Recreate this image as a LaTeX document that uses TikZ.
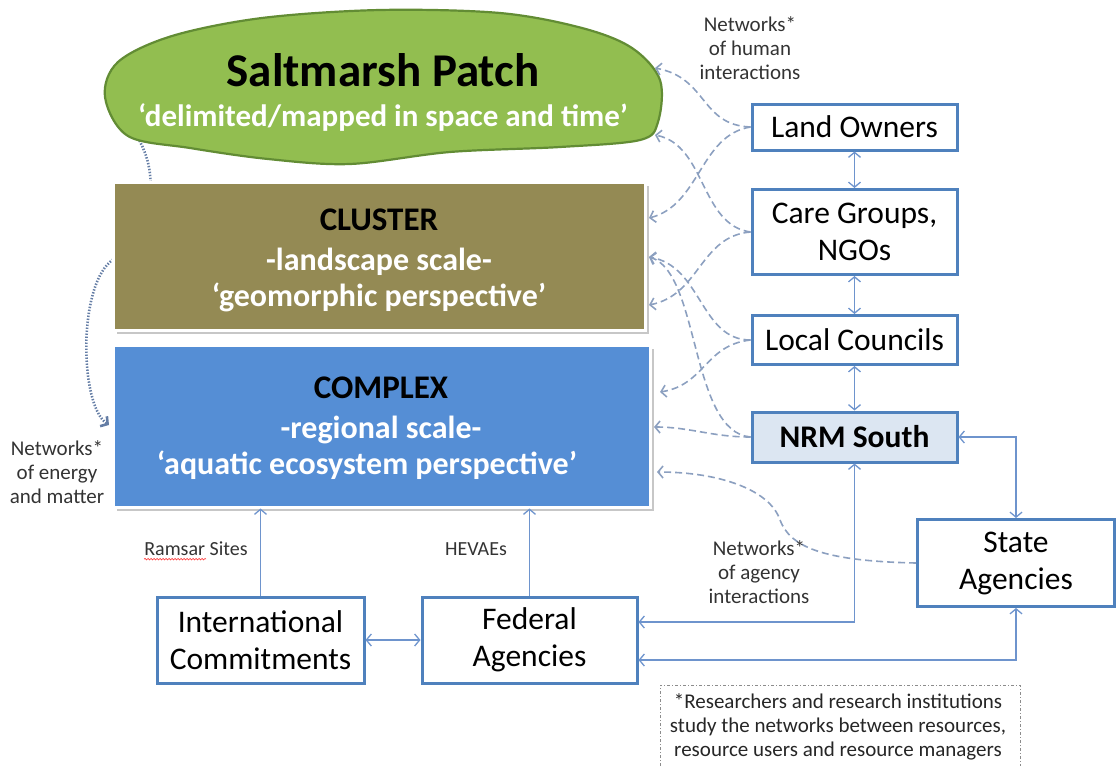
\documentclass[tikz,border=0pt]{standalone}
\usepackage{fontspec}
\setmainfont{Carlito}
\usetikzlibrary{arrows.meta,decorations.pathmorphing}

\begin{document}
\begin{tikzpicture}[
    x=1pt,
    y=-1pt,
    >={Straight Barb[length=5pt,width=12pt]},
    agent box/.style={draw=boxBlue, line width=3pt, fill=white, align=center,
      font=\fontsize{31.5}{37}\selectfont, inner sep=0pt, minimum width=205pt},
    scale box/.style={draw=white, line width=3pt, minimum width=532pt},
    link/.style={draw=linkBlue, line width=1.3pt},
    net link/.style={draw=netGrey, line width=1.6pt, dash pattern=on 7pt off 4pt},
    energy link/.style={draw=energyGrey, line width=2.6pt, dash pattern=on 1.4pt off 1.6pt},
    small label/.style={font=\fontsize{21}{24}\selectfont, text=black!80, align=center, inner sep=0pt},
    scale title/.style={font=\bfseries\fontsize{33}{36}\selectfont, text=black, inner sep=0pt},
    scale text/.style={font=\bfseries\fontsize{32}{36}\selectfont, text=white, inner sep=0pt}
]

\definecolor{boxBlue}{RGB}{79,129,189}
\definecolor{linkBlue}{RGB}{110,148,205}
\definecolor{netGrey}{RGB}{140,160,192}
\definecolor{energyGrey}{RGB}{100,125,165}
\definecolor{patchGreen}{RGB}{146,190,80}
\definecolor{patchEdge}{RGB}{98,140,52}
\definecolor{clusterOlive}{RGB}{148,138,84}
\definecolor{complexBlue}{RGB}{85,142,213}
\definecolor{nrmFill}{RGB}{220,230,242}

\useasboundingbox (0,0) rectangle (1116,766);

% Arrow targets on the scales.
\coordinate (patchTop) at (655,68);
\coordinate (patchLow) at (655,135);
\coordinate (patchFoot) at (138,138);
\coordinate (clusterTop) at (649,218);
\coordinate (clusterMid) at (649,257);
\coordinate (clusterLow) at (649,305);
\coordinate (complexTop) at (660,392);
\coordinate (complexMid) at (654,427);
\coordinate (complexLow) at (657,472);
\coordinate (complexLeft) at (109,425);

% Networks of energy and matter (passes behind the cluster).
\draw[energy link, ->] (patchFoot) .. controls (165,185) and (145,235) .. (110,262)
  .. controls (78,290) and (80,405) .. (complexLeft);

% Saltmarsh patch outline.
\draw[fill=patchGreen, draw=patchEdge, line width=2.2pt]
  plot[smooth cycle, tension=0.55] coordinates {
    (105,97) (118,62) (172,36) (262,18) (380,10) (500,13) (582,28)
    (632,48) (660,80) (658,122) (640,140) (560,147) (450,152)
    (350,164) (268,159) (190,148) (128,136)};
\node[font=\bfseries\fontsize{47}{50}\selectfont, inner sep=0pt] (patch) at (383,70) {Saltmarsh Patch};
\node[font=\bfseries\fontsize{31}{34}\selectfont, text=white, inner sep=0pt] (patchsub) at (383,117)
  {‘delimited/mapped in space and time’};

% Cluster and complex scales.
\fill[black!22] (117,186) rectangle (649,334);
\node[scale box, fill=clusterOlive, minimum height=148pt] (cluster) at (379,256) {};
\node[scale title] (clusterA) at (379,220) {CLUSTER};
\node[scale text] (clusterB) at (379,262) {-landscape scale-};
\node[scale text] (clusterC) at (379,297) {‘geomorphic perspective’};

\fill[black!22] (117,349) rectangle (654,511);
\node[scale box, fill=complexBlue, minimum width=537pt, minimum height=162pt] (complex) at (381.5,426) {};
\node[scale title] (complexA) at (381,388) {COMPLEX};
\node[scale text] (complexB) at (381,430) {-regional scale-};
\node[scale text] (complexC) at (367,465) {‘aquatic ecosystem perspective’};

% Resource users and managers.
\node[agent box, minimum height=46pt] (land) at (854.5,127) {Land Owners};
\node[agent box, minimum height=85pt] (care) at (854.5,232) {Care Groups,\\NGOs};
\node[agent box, minimum height=49pt] (council) at (854.5,340) {Local Councils};
\node[agent box, minimum height=50pt, fill=nrmFill, font=\bfseries\fontsize{31.5}{37}\selectfont] (nrm) at (854.5,437) {NRM South};
\node[agent box, minimum width=197pt, minimum height=87pt] (state) at (1016,563) {State\\Agencies};
\node[agent box, minimum width=207pt, minimum height=86pt] (intl) at (260.5,640) {International\\Commitments};
\node[agent box, minimum width=215pt, minimum height=86pt] (fed) at (529.5,640) {Federal\\Agencies};

% Solid links between agencies.
\draw[link, <->] (land.south) -- (care.north);
\draw[link, <->] (care.south) -- (council.north);
\draw[link, <->] (council.south) -- (nrm.north);
\draw[link, <->] (nrm.east) -| (state.north);
\draw[link, <->] (intl.east) -- (fed.west);
\draw[link, ->] (intl.north) -- (intl.north |- complex.south);
\draw[link, ->] (fed.north) -- (fed.north |- complex.south);
\draw[link, <->] (nrm.south) |- ([yshift=18pt]fed.east);
\draw[link, <->] (state.south) |- ([yshift=-20pt]fed.east);

% Networks of human interactions.
\draw[net link, ->] (land.west) .. controls (700,125) and (708,78) .. (patchTop);
\draw[net link, ->] (land.west) .. controls (700,135) and (700,205) .. (clusterTop);
\draw[net link, ->] (care.west) .. controls (700,225) and (706,145) .. (patchLow);
\draw[net link, ->] (care.west) .. controls (700,236) and (700,295) .. (clusterLow);
\draw[net link, ->] (council.west) .. controls (700,340) and (702,266) .. (clusterMid);
\draw[net link, ->] (council.west) .. controls (705,345) and (705,385) .. (complexTop);
\draw[net link, ->] (nrm.west) .. controls (690,432) and (700,272) .. (clusterMid);
\draw[net link, ->] (nrm.west) .. controls (712,437) and (690,427) .. (complexMid);
\draw[net link, ->] (state.west) .. controls (820,561) and (790,546) .. (780,520)
  .. controls (770,490) and (720,472) .. (complexLow);

% Labels.
\node[small label] (humanNet) at (750,48) {Networks*\\of human\\interactions};
\node[small label] (energyNet) at (57,472) {Networks*\\of energy\\and matter};
\node[small label] (agencyNet) at (759,572) {Networks*\\of agency\\interactions};
\node[small label, font=\fontsize{20}{24}\selectfont] (ramsar) at (196,549) {Ramsar Sites};
\node[small label, font=\fontsize{20}{24}\selectfont] (hevae) at (476,549) {HEVAEs};
\draw[red!80, line width=0.6pt, decorate, decoration={snake, amplitude=0.8pt, segment length=3pt}]
  ([yshift=-3pt]ramsar.south west) -- ++(62,0);

% Research note.
\draw[draw=black!45, line width=0.8pt, dash pattern=on 3pt off 2pt on 1pt off 2pt]
  (660,766) -- (660,685) -- (1020,685) -- (1020,766);
\node[small label, text=black!85] (note) at (838,727)
  {*Researchers and research institutions\\study the networks between resources,\\resource users and resource managers};

\end{tikzpicture}
\end{document}
